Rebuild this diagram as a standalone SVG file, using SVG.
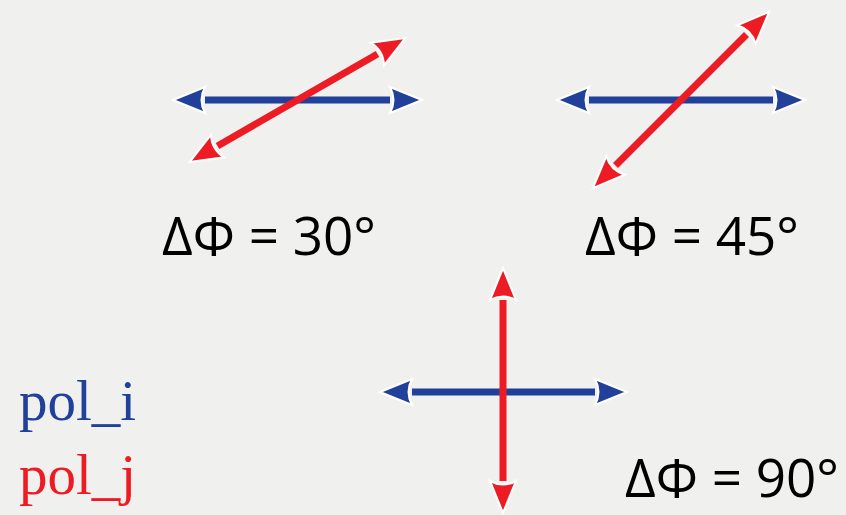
<svg xmlns="http://www.w3.org/2000/svg" width="846" height="515" viewBox="0 0 846 515">
<style>
.blue{stroke:#21409a;stroke-width:7;fill:none}
.red{stroke:#ed1c24;stroke-width:7;fill:none}
.lbl{font-family:"Open Sans","Liberation Sans",sans-serif;font-size:53px;fill:#000}
.pol{font-family:"Liberation Serif","DejaVu Serif",serif;font-size:57px}
</style>
<defs>
<marker id="hb" markerUnits="userSpaceOnUse" orient="auto-start-reverse" refX="0" refY="0" markerWidth="40" markerHeight="32" overflow="visible">
<path d="M32,0 L0,-13 Q7,0 0,13 Z" fill="#21409a" stroke="#fff" stroke-width="2"/>
</marker>
<marker id="hr" markerUnits="userSpaceOnUse" orient="auto-start-reverse" refX="0" refY="0" markerWidth="40" markerHeight="32" overflow="visible">
<path d="M32,0 L0,-13 Q7,0 0,13 Z" fill="#ed1c24" stroke="#fff" stroke-width="2"/>
</marker>
</defs>
<rect width="846" height="515" fill="#f0f0ef"/>
<g id="connectors">
<line class="blue" x1="205" y1="100" x2="390" y2="100" marker-start="url(#hb)" marker-end="url(#hb)"/>
<line class="red" x1="217.5" y1="146" x2="377.5" y2="54" marker-start="url(#hr)" marker-end="url(#hr)"/>
<line class="blue" x1="589" y1="100" x2="773" y2="100" marker-start="url(#hb)" marker-end="url(#hb)"/>
<line class="red" x1="615.5" y1="165.5" x2="746.5" y2="34.5" marker-start="url(#hr)" marker-end="url(#hr)"/>
<line class="blue" x1="412" y1="392" x2="595" y2="392" marker-start="url(#hb)" marker-end="url(#hb)"/>
<line class="red" x1="503" y1="481" x2="503" y2="300" marker-start="url(#hr)" marker-end="url(#hr)"/>
</g>
<g id="label30"><text class="lbl" x="162" y="255">ΔΦ = 30°</text></g>
<g id="label45"><text class="lbl" x="585" y="255">ΔΦ = 45°</text></g>
<g id="label90"><text class="lbl" x="625" y="497">ΔΦ = 90°</text></g>
<g id="legend">
<text class="pol" x="19" y="420" fill="#21409a">pol_i</text>
<text class="pol" x="19" y="494" fill="#ed1c24">pol_j</text>
</g>
</svg>
